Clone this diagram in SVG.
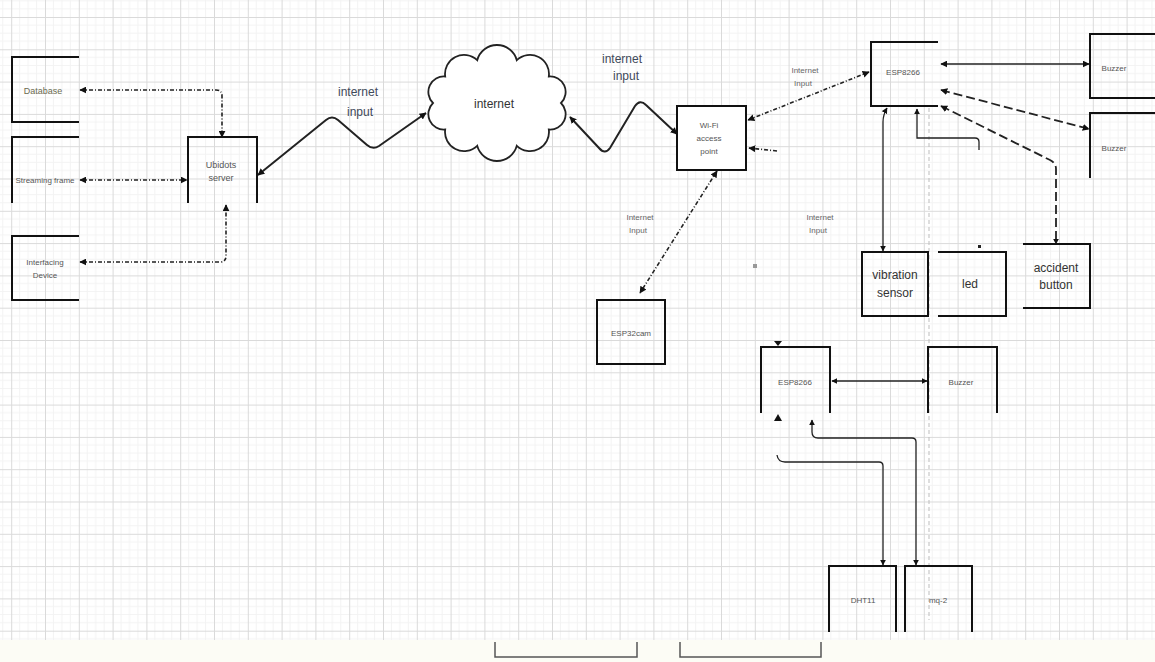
<svg xmlns="http://www.w3.org/2000/svg" width="1155" height="662" viewBox="0 0 1155 662">
<defs>
<pattern id="grid" patternUnits="userSpaceOnUse" x="11.2" y="17" width="33.8" height="32.3">
<path d="M8.45,0V32.3M16.9,0V32.3M25.35,0V32.3M0,8.07H33.8M0,16.15H33.8M0,24.22H33.8" stroke="#f3f3f3" stroke-width="1" fill="none"/>
<path d="M0.5,0V32.3M0,0.5H33.8" stroke="#dadada" stroke-width="1" fill="none"/>
</pattern>
<marker id="ah" viewBox="0 0 10 10" refX="9" refY="5" markerWidth="7" markerHeight="7" markerUnits="userSpaceOnUse" orient="auto-start-reverse">
<path d="M0,0L10,5L0,10Z" fill="#111"/>
</marker>
<marker id="ahs" viewBox="0 0 10 10" refX="9" refY="5" markerWidth="6" markerHeight="6" markerUnits="userSpaceOnUse" orient="auto-start-reverse">
<path d="M0,0L10,5L0,10Z" fill="#111"/>
</marker>
</defs>
<style>
.box{fill:none;stroke:#111;stroke-width:2}
.t{font-family:"Liberation Sans",Arial,sans-serif;fill:#555;text-anchor:middle}
.s{font-size:8px}
.m{font-size:9px}
.l{font-size:12px;fill:#333}
.lab{font-family:"Liberation Sans",Arial,sans-serif;font-size:12px;fill:#3f4a5a;text-anchor:middle}
.sl{font-family:"Liberation Sans",Arial,sans-serif;font-size:8px;fill:#666;text-anchor:middle}
.dot{fill:none;stroke:#222;stroke-width:1.6;stroke-dasharray:4 2 1 2}
.sol{fill:none;stroke:#222;stroke-width:1.3}
.zig{fill:none;stroke:#222;stroke-width:2}
.dash{fill:none;stroke:#222;stroke-width:1.8;stroke-dasharray:9 4}
</style>
<rect width="1155" height="662" fill="#fff"/>
<rect width="1155" height="640" fill="url(#grid)"/>
<rect y="640" width="1155" height="22" fill="#fcfcf5"/>
<path d="M929,108V620" stroke="#bdbdbd" stroke-width="1" stroke-dasharray="4 3" fill="none"/>

<g id="connectors">
<path class="dot" d="M80,90H216Q222,90 222,96V137" marker-start="url(#ah)" marker-end="url(#ah)"/>
<path class="dot" d="M80,180H187" marker-start="url(#ah)" marker-end="url(#ah)"/>
<path class="dot" d="M80,262H220Q226,262 226,256V205" marker-start="url(#ah)" marker-end="url(#ah)"/>
<path class="zig" d="M258,175L326,120Q332,115 338,120L367,145Q373,150 379,146L426,113" marker-start="url(#ah)" marker-end="url(#ah)"/>
<path class="zig" d="M570,117L599,148Q605,155 610,148L635,106Q640,99 646,105L677,134" marker-start="url(#ah)" marker-end="url(#ah)"/>
<path class="dot" d="M869,72L748,120" marker-start="url(#ah)" marker-end="url(#ah)"/>
<path class="dot" d="M777,151L749,148" marker-end="url(#ah)"/>
<path class="dot" d="M717,171L640,293" marker-start="url(#ah)" marker-end="url(#ah)"/>
<path class="sol" stroke-width="2" d="M941,64H1089" marker-start="url(#ah)" marker-end="url(#ah)"/>
<path class="dash" d="M941,90L1089,129" marker-start="url(#ah)" marker-end="url(#ah)"/>
<path class="dash" d="M941,106L1050,160Q1056,163 1056,169V244" marker-start="url(#ah)" marker-end="url(#ahs)"/>
<path class="sol" stroke-width="1.8" d="M887,108Q883,115 883,122V251" marker-start="url(#ahs)" marker-end="url(#ahs)"/>
<path class="sol" stroke-width="1.6" d="M917,109V138H975Q979,138 979,142V150" marker-start="url(#ahs)"/>
<rect x="978" y="245" width="3" height="3" fill="#222"/>
<path class="sol" stroke-width="1.8" d="M832,381H927" marker-start="url(#ahs)" marker-end="url(#ahs)"/>
<path d="M774,421L778,414L782,421Z" fill="#111"/>
<path d="M774,341L778,346L782,341Z" fill="#111"/>
<path class="sol" stroke-width="1.5" d="M812,420V432Q812,438 818,438H912Q916,438 916,442V565" marker-start="url(#ahs)" marker-end="url(#ahs)"/>
<path class="sol" stroke-width="1.5" d="M777,455Q778,462 785,462H879Q883,462 883,466V565" marker-end="url(#ahs)"/>
<rect x="753" y="264" width="4" height="4" fill="#999"/>
</g>

<g id="database">
<path class="box" d="M79,57H12V122H79"/>
<text class="t m" x="43" y="94" style="fill:#6b6b50">Database</text>
</g>
<g id="streaming">
<path class="box" d="M79,137H12V203"/>
<text class="t s" x="45" y="183">Streaming frame</text>
</g>
<g id="interfacing">
<path class="box" d="M79,236H12V300H79"/>
<text class="t s" x="45" y="265">Interfacing</text>
<text class="t s" x="45" y="278">Device</text>
</g>
<g id="ubidots">
<path class="box" d="M188,203V137H257V203"/>
<text class="t m" x="221" y="168">Ubidots</text>
<text class="t m" x="221" y="181">server</text>
</g>
<g id="internet">
<path d="M561,103A15.5,15.5 0 0 1 548.8,129.5A19,19 0 0 1 516.8,145.8A20.5,20.5 0 0 1 477.2,145.8A19,19 0 0 1 445.2,129.5A15.5,15.5 0 0 1 433,103A15.5,15.5 0 0 1 445.2,76.5A19,19 0 0 1 477.2,60.2A20.5,20.5 0 0 1 516.8,60.2A19,19 0 0 1 548.8,76.5A15.5,15.5 0 0 1 561,103Z" fill="#fff" stroke="#222" stroke-width="1.8"/>
<text class="t l" x="494" y="108">internet</text>
</g>
<text class="lab" x="358" y="96">internet</text>
<text class="lab" x="360" y="116">input</text>
<text class="lab" x="622" y="63">internet</text>
<text class="lab" x="626" y="80">input</text>
<text class="sl" x="805" y="73">Internet</text>
<text class="sl" x="803" y="86">Input</text>
<text class="sl" x="640" y="220">Internet</text>
<text class="sl" x="638" y="233">Input</text>
<text class="sl" x="820" y="220">Internet</text>
<text class="sl" x="818" y="233">Input</text>
<g id="wifi">
<rect class="box" x="677" y="106" width="69" height="64" style="fill:#fff"/>
<text class="t s" x="709" y="128">Wi-Fi</text>
<text class="t s" x="709" y="141">access</text>
<text class="t s" x="709" y="154">point</text>
</g>
<g id="esp32cam">
<rect class="box" x="597" y="300" width="68" height="64"/>
<text class="t s" x="631" y="336">ESP32cam</text>
</g>
<g id="esp8266-top">
<path class="box" d="M938,42H871V106H938"/>
<text class="t s" x="903" y="75">ESP8266</text>
</g>
<g id="buzzer1">
<path class="box" d="M1155,34H1090V98H1155"/>
<text class="t s" x="1114" y="71">Buzzer</text>
</g>
<g id="buzzer2">
<path class="box" d="M1155,113H1090V178"/>
<text class="t s" x="1114" y="151">Buzzer</text>
</g>
<g id="vibration">
<rect class="box" x="862" y="252" width="66" height="64"/>
<text class="t l" x="895" y="279">vibration</text>
<text class="t l" x="895" y="297">sensor</text>
</g>
<g id="led">
<path class="box" d="M938,252H1006V316H938"/>
<text class="t l" x="970" y="288">led</text>
</g>
<g id="accident">
<path class="box" d="M1023,244H1090V308H1023"/>
<text class="t l" x="1056" y="272">accident</text>
<text class="t l" x="1056" y="289">button</text>
</g>
<g id="esp8266-bottom">
<path class="box" d="M761,413V347H830V413"/>
<text class="t s" x="795" y="385">ESP8266</text>
</g>
<g id="buzzer3">
<path class="box" d="M928,413V347H997V413"/>
<text class="t s" x="961" y="385">Buzzer</text>
</g>
<g id="dht11">
<path class="box" d="M829,632V566H896V632"/>
<text class="t s" x="863" y="603">DHT11</text>
</g>
<g id="mq2">
<path class="box" d="M905,632V566H972V632"/>
<text class="t s" x="938" y="603">mq-2</text>
</g>
<g id="brackets">
<path d="M495,642V657H637V642M680,642V657H821V642" fill="none" stroke="#555" stroke-width="1.5"/>
</g>
</svg>
